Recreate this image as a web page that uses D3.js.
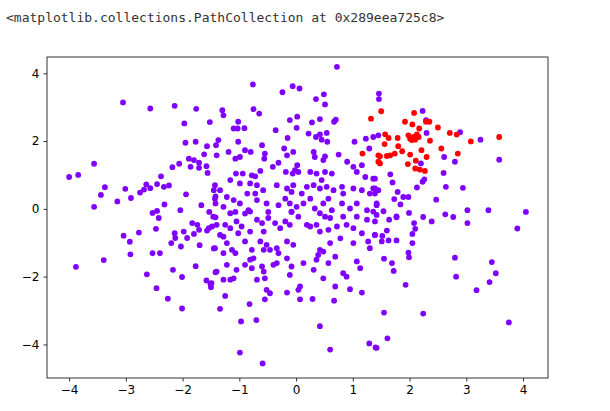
<!DOCTYPE html>
<html>
<head>
<meta charset="utf-8">
<script src="https://cdn.jsdelivr.net/npm/d3@7"></script>
<style>
  body { margin: 0; background: #fff; }
  .title { font-family: "DejaVu Sans Mono", monospace; font-size: 13px; fill: #333; }
  .axis text { font-family: "DejaVu Sans", sans-serif; font-size: 12px; fill: #000; }
</style>
</head>
<body>
<script>
var xTicks = [-4, -3, -2, -1, 0, 1, 2, 3, 4];
var yTicks = [-4, -2, 0, 2, 4];

// cluster 0 (purple)
var purplePoints = [
  [-3.05,3.14],[-2.57,2.96],[-2.14,3.04],[-1.76,2.95],[-1.97,2.52],[-1.52,2.56],[-1.95,1.95],[-1.77,1.98],[-1.57,1.85],[-1.62,1.61],[-1.89,1.48],[-1.80,1.44],[-1.71,1.36],[-1.86,1.24],[-1.71,1.21],[-1.58,1.26],[-1.56,1.06],[-2.06,1.33],[-2.18,1.23],[-3.56,1.33],[-4.0,0.94],[-3.84,1.0],[-2.38,0.96],[-3.37,0.64],[-3.44,0.41],[-3.01,0.59],[-2.64,0.72],[-2.68,0.57],[-2.75,0.48],[-2.57,0.61],[-2.45,0.73],[-2.33,0.65],[-2.24,0.69],[-3.15,0.22],[-2.91,0.32],[-3.56,0.06],[-1.94,0.43],[-2.32,0.13],[-2.04,-0.04],[-1.67,0.11],[-1.53,-0.09],[-1.45,0.55],[-1.42,0.37],[-1.42,0.16],[-2.53,-0.12],[-2.45,-0.06],
  [0.72,4.19],[-0.76,3.67],[-0.24,3.44],[-0.06,3.62],[0.06,3.55],[0.35,3.24],[0.49,3.38],[0.51,3.08],[-1.30,2.91],[-1.28,2.76],[-0.75,2.94],[-0.65,2.81],[-0.11,2.62],[0.02,2.72],[0.01,2.39],[0.28,2.55],[0.42,2.65],[0.70,2.63],[0.67,2.57],[-1.02,2.57],[-1.10,2.37],[-1.03,2.37],[-0.91,2.38],[-0.36,2.32],[-0.15,2.09],[0.22,2.22],[0.35,2.12],[0.42,2.2],[0.54,2.24],[0.45,2.04],[0.55,1.98],[-1.37,2.03],[-1.41,1.88],[-1.40,1.58],[-1.19,1.68],[-1.02,1.98],[-0.90,1.73],[-0.80,1.68],[-0.60,1.88],[-0.55,1.63],[-0.56,1.48],[-1.07,1.48],[-0.99,1.53],[-0.21,1.78],[-0.16,1.58],[-0.05,1.68],[0.31,1.68],[0.33,1.53],[0.51,1.55],[0.48,1.44],[0.75,1.60],[0.90,1.39],[1.03,1.98],[1.23,2.07],[1.36,2.12],[1.45,2.17],[1.29,1.78],
  [-0.41,1.24],[-0.31,1.36],[0.02,1.29],[-0.02,1.14],[0.04,1.09],[-0.18,1.09],[-0.06,1.04],[-1.06,1.04],[-0.94,1.04],[-0.78,0.99],[-0.72,0.96],[-0.63,1.12],[0.25,1.09],[0.36,1.04],[0.51,1.09],[0.63,1.04],[0.45,0.85],[1.01,1.24],[1.07,1.09],[1.16,1.29],[1.22,0.94],[1.36,0.89],[-1.16,0.85],[-0.99,0.75],[-1.43,0.70],[-1.34,0.55],[-0.81,0.75],[-0.69,0.70],[-0.58,0.55],[-0.72,0.45],[-0.86,0.45],
  [-0.34,0.70],[-0.16,0.60],[-0.05,0.70],[-0.08,0.50],[0.10,0.45],[0.19,0.65],[0.31,0.70],[0.42,0.60],[0.54,0.65],[0.66,0.55],[0.81,0.65],[0.83,0.45],[1.01,0.60],[1.16,0.55],[1.36,0.60],[1.30,0.45],[1.45,0.55],
  [-1.43,0.30],[-1.22,0.35],[-1.10,0.26],[-1.28,0.06],[-0.99,0.16],[-0.84,-0.04],[-0.69,0.26],[-0.52,0.16],[-0.49,-0.09],[-0.31,0.11],[-0.19,0.30],[-0.11,0.16],[0.01,0.06],[-0.08,-0.09],[0.13,0.16],[0.25,0.30],[0.33,0.01],[0.48,0.16],[0.57,0.30],[0.63,-0.04],[0.81,0.16],[0.95,0.01],[1.07,0.16],[1.25,-0.04],[1.42,0.11],[-1.07,-0.09],[-0.90,-0.14],
  [1.46,3.40],[1.46,3.24],[2.23,2.89],[2.29,2.62],[2.30,2.24],[2.89,2.26],[3.25,2.04],[3.58,1.45],[2.61,1.53],[2.80,1.39],[2.20,1.34],[2.60,1.06],[2.26,0.87],[2.23,0.80],[2.13,0.63],[2.64,0.65],[2.94,0.62],[1.66,1.02],[1.70,0.78],[1.39,0.89],[1.39,0.6],[1.39,0.45],[1.79,0.50],[1.73,0.29],[1.89,0.35],[1.98,0.35],[1.84,0.13],[2.47,0.27],[1.42,0.16],[1.54,-0.07],[1.77,-0.22],[1.99,-0.12],[2.24,-0.24],[2.63,-0.16],[3.02,-0.04],[3.39,-0.04],[4.05,-0.09],[2.77,-0.24],
  [-2.42,-0.27],[-1.83,-0.42],[-1.74,-0.47],[-1.71,-0.62],[-1.80,-0.74],[-1.54,-0.57],[-1.48,-0.52],[-1.42,-0.25],[-1.57,-0.64],[-3.04,-0.79],[-2.77,-0.70],[-2.93,-0.97],[-2.47,-0.59],[-2.14,-0.72],[-2.13,-0.86],[-1.98,-0.67],[-1.92,-0.86],[-2.20,-1.01],[-2.03,-1.11],[-1.70,-1.07],[-1.45,-1.17],[-2.92,-1.34],[-2.53,-1.31],[-2.40,-1.31],[-3.39,-1.51],[-3.88,-1.71],[-2.63,-1.93],[-2.17,-1.80],[-2.01,-2.01],[-1.77,-1.69],[-1.42,-1.87],[-1.58,-2.11],[-1.51,-2.21],[-1.50,-2.31],[-2.46,-2.34],[-2.26,-2.65],[-2.01,-2.94],
  [-1.46,-0.23],[-1.40,-0.47],[-1.25,-0.47],[-1.16,-0.13],[-1.05,-0.37],[-1.02,-0.72],[-0.96,-0.52],[-0.81,-0.67],[-0.69,-0.32],[-0.60,-0.42],[-0.57,-0.67],[-0.49,-0.27],[-0.37,-0.42],[-0.28,-0.57],[-0.19,-0.37],[-0.11,-0.47],[-0.08,-0.08],[0.04,-0.23],[0.19,-0.47],[0.25,-0.52],[0.36,-0.47],[0.42,-0.13],[0.51,-0.23],[0.60,-0.27],[0.72,-0.52],[0.83,-0.23],[0.89,-0.47],[1.01,-0.57],[1.07,-0.23],[1.25,-0.32],[1.36,-0.08],[1.39,-0.37],[0.42,-0.67],[0.57,-0.62],[-0.81,-0.08],[-1.16,-0.57],[-1.34,-0.77],
  [-1.28,-0.82],[-1.22,-1.01],[-1.43,-1.16],[-1.28,-1.31],[-1.13,-1.21],[-1.07,-1.31],[-0.90,-0.96],[-0.78,-1.21],[-0.75,-1.46],[-0.63,-0.96],[-0.57,-1.21],[-0.52,-1.06],[-0.46,-1.21],[-0.34,-1.16],[-0.31,-1.31],[-0.16,-0.96],[-0.05,-1.06],[-0.81,-1.50],[-0.78,-1.75],[-1.22,-1.65],[-1.05,-1.80],[-0.90,-1.65],[-1.40,-1.85],[-0.60,-1.70],[-0.57,-1.85],[-0.40,-1.65],[-0.34,-1.60],[-0.16,-1.46],[-0.08,-1.70],[-0.11,-1.95],[0.13,-1.60],[0.31,-1.80],[0.36,-1.50],[0.42,-1.21],[0.48,-1.26],[0.39,-1.36],[0.57,-1.60],[0.69,-1.41],[0.60,-1.01],[0.78,-0.87],[1.01,-1.01],[1.16,-0.72],[1.27,-0.96],[1.30,-1.16],[1.07,-1.55],[1.13,-1.75],[0.83,-1.90],[0.89,-2.00],[1.39,-0.77],[0.48,-2.05],[0.69,-2.29],[0.95,-2.37],[1.16,-2.47],[-1.49,-2.19],[-1.28,-2.09],[-1.16,-2.09],[-1.10,-2.05],[-0.69,-2.09],[-0.55,-2.05],[0.07,-2.29],[0.04,-2.39],[-0.16,-2.47],[-0.52,-2.39],[-0.46,-2.49],[-0.55,-2.67],[-1.25,-2.57],[-1.34,-2.95],[0.07,-2.67],[0.29,-2.66],[0.67,-2.71],[-0.82,-2.81],[-0.97,-3.32],[-0.70,-3.28],[0.42,-3.46],[-0.99,-4.24],[-0.59,-4.56],[0.60,-4.15],[1.29,-3.97],[1.40,-4.09],
  [1.42,-0.18],[1.64,-0.32],[1.77,-0.25],[2.08,-0.42],[2.10,-0.59],[2.05,-0.74],[2.39,-0.37],[3.02,-0.42],[3.90,-0.58],[1.39,-0.77],[1.52,-0.80],[1.60,-0.64],[1.51,-0.96],[1.63,-0.93],[1.77,-0.93],[2.05,-1.01],[1.98,-1.29],[1.99,-1.43],[1.55,-1.47],[1.69,-1.60],[1.72,-1.83],[2.80,-1.44],[3.45,-1.57],[3.52,-1.90],[2.82,-2.00],[3.41,-2.16],[3.18,-2.40],[1.93,-2.24],[1.55,-3.06],[2.24,-3.09],[3.75,-3.35],[1.61,-3.82],[1.42,-4.10]
];

// cluster 1 (red)
var redPoints = [
  [1.32,2.66],[1.17,1.63],[1.45,1.58],[1.45,1.39],[1.50,2.88],[2.08,2.83],[1.92,2.57],[2.05,2.49],[2.17,2.37],[2.29,2.57],[2.35,2.57],[2.50,2.40],[2.71,2.24],[2.83,2.19],[3.08,1.99],[3.58,2.12],[1.98,2.17],[2.07,2.12],[2.13,2.20],[2.04,2.03],[2.10,2.04],[2.01,2.07],[2.16,2.12],[1.57,2.20],[1.63,2.09],[1.56,1.91],[1.79,2.09],[1.80,1.85],[1.87,1.70],[1.74,1.63],[1.66,1.58],[1.48,1.55],[1.48,1.34],[1.60,1.56],[2.36,2.01],[2.21,1.73],[2.30,1.53],[2.56,1.78],[2.85,1.63],[1.97,1.32],[2.11,1.42],[2.10,1.19],[2.18,1.16],[2.27,1.12],[2.01,1.60]
];

var width = 610, height = 411;
var plotLeft = 47, plotRight = 548, plotTop = 57, plotBottom = 378;

var svg = d3.select("body").append("svg")
    .attr("width", width)
    .attr("height", height);

svg.append("text")
    .attr("class", "title")
    .attr("x", 6)
    .attr("y", 22)
    .text("<matplotlib.collections.PathCollection at 0x289eea725c8>");

var xScale = d3.scaleLinear().domain([-4.39, 4.44]).range([plotLeft, plotRight]);
var yScale = d3.scaleLinear().domain([-4.99, 4.48]).range([plotBottom, plotTop]);

var fmt = function(d) { return d < 0 ? "\u2212" + (-d) : d; };

var xAxis = svg.append("g")
    .attr("class", "axis")
    .attr("transform", "translate(0," + plotBottom + ")")
    .call(d3.axisBottom(xScale).tickValues(xTicks).tickSize(3.5).tickPadding(4).tickFormat(fmt));

var yAxis = svg.append("g")
    .attr("class", "axis")
    .attr("transform", "translate(" + plotLeft + ",0)")
    .call(d3.axisLeft(yScale).tickValues(yTicks).tickSize(3.5).tickPadding(4).tickFormat(fmt));

[xAxis, yAxis].forEach(function(a) {
    a.select(".domain").remove();
    a.selectAll("line").attr("stroke", "#000").attr("stroke-width", 0.8);
});

svg.append("g").selectAll("circle")
    .data(purplePoints)
    .enter().append("circle")
        .attr("cx", function(d) { return xScale(d[0]); })
        .attr("cy", function(d) { return yScale(d[1]); })
        .attr("r", 2.9)
        .style("fill", "#8000ff");

svg.append("g").selectAll("circle")
    .data(redPoints)
    .enter().append("circle")
        .attr("cx", function(d) { return xScale(d[0]); })
        .attr("cy", function(d) { return yScale(d[1]); })
        .attr("r", 2.9)
        .style("fill", "#ff0000");

svg.append("rect")
    .attr("x", plotLeft)
    .attr("y", plotTop)
    .attr("width", plotRight - plotLeft)
    .attr("height", plotBottom - plotTop)
    .attr("fill", "none")
    .attr("stroke", "#000")
    .attr("stroke-width", 0.8);
</script>
</body>
</html>
